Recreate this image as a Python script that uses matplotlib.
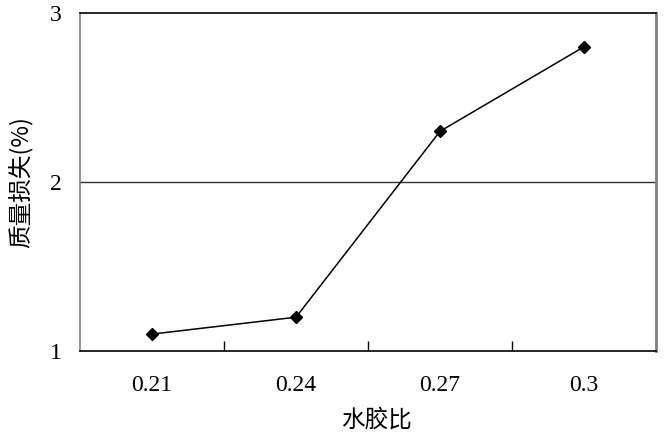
import matplotlib.pyplot as plt
import numpy as np

# data
ratios = ["0.21", "0.24", "0.27", "0.3"]
mass_loss = [1.10, 1.20, 2.30, 2.80]
y_ticks = [1, 2, 3]

fig = plt.figure(figsize=(6.68, 4.41), dpi=100)
ax = fig.add_axes([80 / 668, 90 / 441, 576 / 668, 338 / 441])

x = np.arange(len(ratios))
ax.plot(x, mass_loss, color='black', linewidth=1.1, marker='D', markersize=6,
        markerfacecolor='black', markeredgecolor='black', zorder=3)

ax.set_xlim(-0.5, len(ratios) - 0.5)
ax.set_ylim(1, 3)

# horizontal gridline at 2
ax.axhline(2, color='#303030', linewidth=1.0, zorder=1)

# category labels centered, tick marks between categories (pointing inward)
ax.set_xticks(x)
ax.set_xticklabels(ratios, fontfamily='Liberation Serif', fontsize=17)
ax.tick_params(axis='x', which='major', length=0, pad=17)
ax.set_xticks(np.arange(0.5, len(ratios) - 1, 1), minor=True)
ax.tick_params(axis='x', which='minor', direction='in', length=7, width=1, color='black')

ax.set_yticks(y_ticks)
ax.set_yticklabels([str(v) for v in y_ticks], fontfamily='Liberation Serif', fontsize=17)
ax.tick_params(axis='y', length=0, pad=13)

ax.spines['left'].set_color('#808080')
ax.spines['left'].set_linewidth(1.2)
ax.spines['right'].set_color('#808080')
ax.spines['right'].set_linewidth(2.0)
ax.spines['top'].set_color('black')
ax.spines['top'].set_linewidth(1.2)
ax.spines['bottom'].set_color('black')
ax.spines['bottom'].set_linewidth(1.2)

fig.text(21 / 668, 1 - 182 / 441, '质量损失(%)', rotation=90, ha='center', va='center',
         fontsize=17, family=['Noto Sans CJK SC', 'DejaVu Sans'])
fig.text(377 / 668, 1 - 420 / 441, '水胶比', ha='center', va='center',
         fontsize=17, family=['Noto Sans CJK SC', 'DejaVu Sans'])

fig.savefig('out.png', dpi=100)
